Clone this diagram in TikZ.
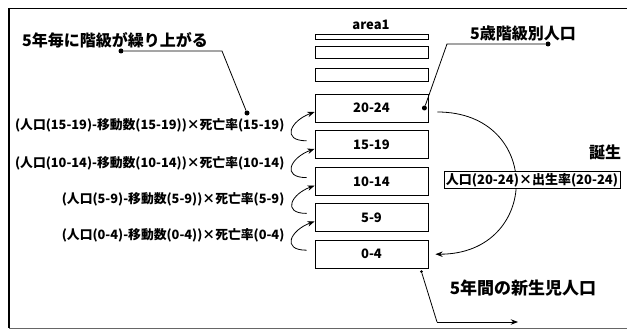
\documentclass[tikz,border=0pt]{standalone}
\usepackage{fontspec}
\setmainfont{Noto Sans CJK JP}
\usetikzlibrary{arrows.meta, positioning, calc}

\begin{document}
\begin{tikzpicture}[
    x=1pt, y=-1pt,
    node distance=8pt,
    agebox/.style={rectangle, draw=black, thick, minimum height=28pt, minimum width=113pt, inner sep=0pt, align=center, font=\fontsize{13}{15}\selectfont\bfseries},
    stubbox/.style={rectangle, draw=black, thick, minimum width=113pt, inner sep=0pt},
    notetext/.style={inner sep=1pt, font=\fontsize{16}{18}\selectfont\bfseries},
    formula/.style={inner sep=1pt, anchor=east, font=\fontsize{12.8}{15}\selectfont\bfseries},
    ratebox/.style={rectangle, draw=black, thick, fill=white, inner sep=2pt, font=\fontsize{13}{15}\selectfont\bfseries},
    dot/.style={circle, fill=black, inner sep=0pt, minimum size=5pt},
    arrow/.style={-{Stealth[scale=1.1]}, thick},
    leader/.style={thick}
]
\useasboundingbox (0,0) rectangle (627,329);

% Frame
\draw[line width=2.5pt] (9,8) -- (9,328);
\draw[thick] (9,8) -- (627,8);
\draw[black!60] (9,328) -- (627,328);

% Age boxes
\node[agebox] (a2024) at (371.5,108) {20-24};
\node[agebox, below=of a2024] (a1519) {15-19};
\node[agebox, below=of a1519] (a1014) {10-14};
\node[agebox, below=7pt of a1014] (a59) {5-9};
\node[agebox, below=of a59] (a04) {0-4};

% Upper boxes
\node[stubbox, minimum height=13pt, above=12pt of a2024] (stub3) {};
\node[stubbox, minimum height=12pt, above=9pt of stub3] (stub2) {};
\node[stubbox, minimum height=5pt, above=6pt of stub2] (stub1) {};
\node[font=\fontsize{13}{15}\selectfont\bfseries] (area) at (371,25) {area1};

% Survival formulas
\node[formula] (f1519) at ($(a2024.west)!0.5!(a1519.west)+(-29,-1)$) {(人口(15-19)-移動数(15-19))×死亡率(15-19)};
\node[formula] (f1014) at ($(a1519.west)!0.5!(a1014.west)+(-29,0)$) {(人口(10-14)-移動数(10-14))×死亡率(10-14)};
\node[formula] (f59) at ($(a1014.west)!0.5!(a59.west)+(-29,0)$) {(人口(5-9)-移動数(5-9))×死亡率(5-9)};
\node[formula] (f04) at ($(a59.west)!0.5!(a04.west)+(-29,0)$) {(人口(0-4)-移動数(0-4))×死亡率(0-4)};

% Ageing arrows
\draw[arrow] ([xshift=-8pt,yshift=4pt]a1519.west) to[out=180, in=200, looseness=2.2] ([yshift=-4pt]a2024.west);
\draw[arrow] ([xshift=-8pt,yshift=4pt]a1014.west) to[out=180, in=200, looseness=2.2] ([yshift=-4pt]a1519.west);
\draw[arrow] ([xshift=-8pt,yshift=4pt]a59.west) to[out=180, in=200, looseness=2.2] ([yshift=-4pt]a1014.west);
\draw[arrow] ([xshift=-8pt,yshift=4pt]a04.west) to[out=180, in=200, looseness=2.2] ([yshift=-4pt]a59.west);

% Birth arc
\draw[arrow] ([xshift=9pt,yshift=-4pt]a2024.east) to[out=0, in=0, looseness=1.9] ([xshift=7pt]a04.east);
\node[ratebox] (birthrate) at (532,180) {人口(20-24)×出生率(20-24)};
\node[notetext] (birth) at (605,152) {誕生};

% Callouts
\node[notetext] (stepup) at (115,40) {5年毎に階級が繰り上がる};
\node[dot] (stepup_dot) at (121,51) {};
\coordinate (stepup_bend) at (222,51);
\node[dot] (stepup_end) at (247,113) {};
\draw[leader] (stepup_dot) -- (stepup_bend) -- (stepup_end);

\node[notetext] (agegroups) at (523,33) {5歳階級別人口};
\node[dot] (agegroups_dot) at (548,44) {};
\coordinate (agegroups_bend) at (447,44);
\node[dot] (agegroups_end) at ([xshift=-4pt]a2024.east) {};
\draw[leader] (agegroups_dot) -- (agegroups_bend) -- (agegroups_end);

\node[notetext, font=\fontsize{17}{19}\selectfont\bfseries] (newborn) at (523,288) {5年間の新生児人口};
\node[dot, minimum size=3pt] (newborn_dot) at ([shift={(-7pt,-3pt)}]a04.south east) {};
\coordinate (newborn_bend) at (437,322);
\coordinate (newborn_end) at (518,322);
\draw[leader] (newborn_dot) -- (newborn_bend);
\draw[arrow] (newborn_bend) -- (newborn_end);

\end{tikzpicture}
\end{document}
